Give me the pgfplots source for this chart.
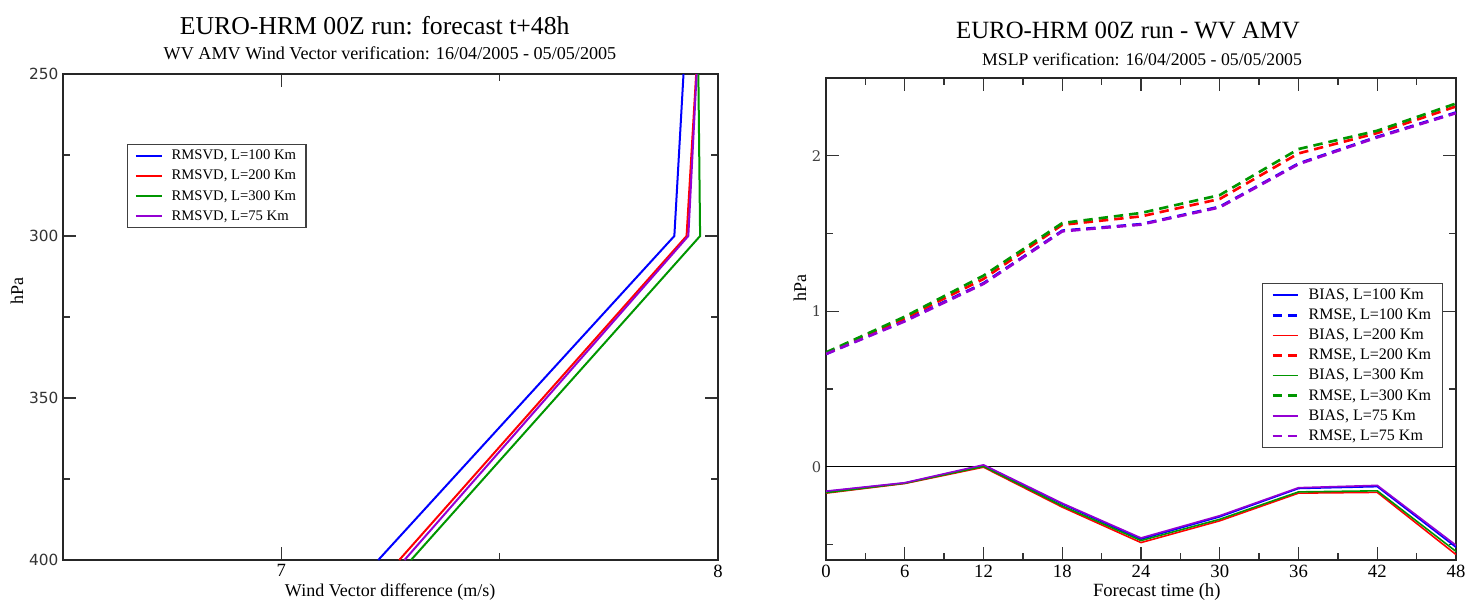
\documentclass[border=0pt]{standalone}
\usepackage{fontspec}
\setmainfont{Liberation Serif}
\newfontfamily\djsans{DejaVu Sans}
\newfontfamily\djserif{DejaVu Serif}
\usepackage{pgfplots}
\pgfplotsset{compat=1.18}
\definecolor{cblue}{RGB}{0,0,255}
\definecolor{cred}{RGB}{255,0,0}
\definecolor{cgreen}{RGB}{0,150,0}
\definecolor{cviolet}{RGB}{148,0,211}
\pgfplotsset{
 common/.style={
  scale only axis,
  axis line style={line width=1.1pt, black!85},
  tick style={line width=1pt, black!80},
  tick align=inside,
  major tick length=10pt, minor tick length=5pt,
  /pgf/number format/assume math mode=true,
  legend cell align=left,
  legend style={draw=black!75, line width=1pt, anchor=north west},
 }
}
\begin{document}
\begin{tikzpicture}
\begin{axis}[common,
  at={(47.25pt,35.25pt)}, anchor=south west,
  width=491.25pt, height=364.5pt,
  xmin=6.5, xmax=8, ymin=250, ymax=400, y dir=reverse,
  xtick={7,8}, minor xtick={7.5},
  ytick={250,300,350,400}, minor ytick={275,325,375},
  xticklabel style={font=\fontsize{14}{16}\selectfont},
  yticklabel style={font=\djsans\fontsize{11.5}{13}\selectfont, text=black!80},
  xlabel={Wind Vector difference (m/s)}, ylabel={hPa},
  xlabel style={font=\fontsize{13.5}{16}\selectfont, at={(axis description cs:0.4995,-0.0658)}, anchor=center},
  ylabel style={font=\fontsize{13.5}{16}\selectfont, at={(axis description cs:-0.0702,0.553)}, anchor=center},
  legend style={at={(axis description cs:0.0977,0.856)}, font=\fontsize{11}{13}\selectfont, row sep=2.3pt, inner xsep=5.5pt, inner ysep=2pt},
  legend image code/.code={\draw[#1] (0pt,0pt) -- (19.5pt,0pt); \path (24pt,0pt);},
]
\addplot[cblue, line width=1.5pt] coordinates {(7.921,250) (7.900,300) (7.222,400)};
\addlegendentry{RMSVD, L=100 Km}
\addplot[cred, line width=1.5pt] coordinates {(7.950,250) (7.928,300) (7.270,400)};
\addlegendentry{RMSVD, L=200 Km}
\addplot[cgreen, line width=1.5pt] coordinates {(7.955,250) (7.959,300) (7.297,400)};
\addlegendentry{RMSVD, L=300 Km}
\addplot[cviolet, line width=1.5pt] coordinates {(7.951,250) (7.932,300) (7.282,400)};
\addlegendentry{RMSVD, L=75 Km}
\end{axis}

\begin{axis}[common,
  at={(619.5pt,35.25pt)}, anchor=south west,
  width=472.5pt, height=361.5pt,
  xmin=0, xmax=48, ymin=-0.6, ymax=2.5,
  xtick={0,6,...,48}, minor xtick={3,9,...,45},
  ytick={0,1,2}, minor ytick={-0.5,0.5,1.5},
  xticklabel style={font=\fontsize{14}{16}\selectfont},
  yticklabel style={font=\djserif\fontsize{11}{13}\selectfont, text=black!75},
  xlabel={Forecast time (h)}, ylabel={hPa},
  xlabel style={font=\fontsize{14}{16}\selectfont, at={(axis description cs:0.525,-0.0664)}, anchor=center},
  ylabel style={font=\fontsize{13.5}{16}\selectfont, at={(axis description cs:-0.0413,0.564)}, anchor=center},
  legend style={at={(axis description cs:0.692,0.575)}, font=\fontsize{12}{14}\selectfont, row sep=1.6pt, inner xsep=6.5pt, inner ysep=2pt},
  legend image code/.code={\draw[#1] (0pt,0pt) -- (18.75pt,0pt); \path (24pt,0pt);},
]
\addplot[black, line width=0.9pt, forget plot] coordinates {(0,0) (48,0)};
\addplot[cblue, line width=1.2pt] coordinates {(0,-0.160) (6,-0.105) (12,0.008) (18,-0.240) (24,-0.466) (30,-0.322) (36,-0.140) (42,-0.128) (48,-0.518)};
\addlegendentry{BIAS, L=100 Km}
\addplot[cblue, line width=2pt, dash pattern=on 7pt off 4.5pt] coordinates {(0,0.725) (6,0.940) (12,1.180) (18,1.518) (24,1.560) (30,1.672) (36,1.950) (42,2.122) (48,2.278)};
\addlegendentry{RMSE, L=100 Km}
\addplot[cred, line width=1.2pt] coordinates {(0,-0.170) (6,-0.108) (12,-0.003) (18,-0.260) (24,-0.488) (30,-0.348) (36,-0.170) (42,-0.165) (48,-0.565)};
\addlegendentry{BIAS, L=200 Km}
\addplot[cred, line width=2pt, dash pattern=on 7pt off 4.5pt] coordinates {(0,0.730) (6,0.955) (12,1.208) (18,1.556) (24,1.610) (30,1.722) (36,2.015) (42,2.146) (48,2.317)};
\addlegendentry{RMSE, L=200 Km}
\addplot[cgreen, line width=1.2pt] coordinates {(0,-0.167) (6,-0.106) (12,0.002) (18,-0.252) (24,-0.475) (30,-0.338) (36,-0.162) (42,-0.155) (48,-0.545)};
\addlegendentry{BIAS, L=300 Km}
\addplot[cgreen, line width=2pt, dash pattern=on 7pt off 4.5pt] coordinates {(0,0.735) (6,0.965) (12,1.229) (18,1.567) (24,1.632) (30,1.747) (36,2.043) (42,2.161) (48,2.336)};
\addlegendentry{RMSE, L=300 Km}
\addplot[cviolet, line width=1.2pt] coordinates {(0,-0.157) (6,-0.103) (12,0.012) (18,-0.235) (24,-0.458) (30,-0.315) (36,-0.135) (42,-0.120) (48,-0.505)};
\addlegendentry{BIAS, L=75 Km}
\addplot[cviolet, line width=2pt, dash pattern=on 7pt off 4.5pt] coordinates {(0,0.725) (6,0.935) (12,1.176) (18,1.514) (24,1.557) (30,1.668) (36,1.946) (42,2.118) (48,2.274)};
\addlegendentry{RMSE, L=75 Km}
\end{axis}

\node[anchor=base, font=\fontsize{19.3}{22}\selectfont] at (281pt,429pt) {EURO-HRM 00Z run: forecast t+48h};
\node[anchor=base, font=\fontsize{13.6}{16}\selectfont] at (292.5pt,410.25pt) {WV AMV Wind Vector verification: 16/04/2005 - 05/05/2005};
\node[anchor=base, font=\fontsize{18.6}{22}\selectfont] at (846pt,426pt) {EURO-HRM 00Z run - WV AMV};
\node[anchor=base, font=\fontsize{13.3}{16}\selectfont] at (856.5pt,405.75pt) {MSLP verification: 16/04/2005 - 05/05/2005};
\pgfresetboundingbox
\useasboundingbox (0,0) rectangle (1110pt,455.25pt);
\end{tikzpicture}
\end{document}
